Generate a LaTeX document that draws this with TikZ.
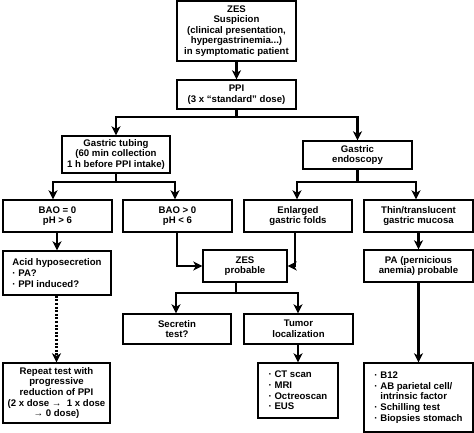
\documentclass[tikz,border=0pt]{standalone}
\usepackage{fontspec}
\setmainfont{Liberation Sans}
\usetikzlibrary{arrows.meta}
\begin{document}
\begin{tikzpicture}[x=1pt,y=-1pt,
  box/.style={draw, line width=1.4pt, inner sep=0pt, align=center,
    font=\bfseries\fontsize{9.6}{10.6}\selectfont},
  lbox/.style={box, align=left},
  conn/.style={line width=2.2pt},
  arr/.style={conn, -{Stealth[length=9pt,width=9pt,inset=2.5pt]}},
  darr/.style={arr, dash pattern=on 2pt off 1.6pt}
]
\useasboundingbox (0,0) rectangle (474,433);
\node[box, minimum width=119pt, minimum height=60pt] (zes) at (236.5,31)
  {ZES\\Suspicion\\(clinical presentation,\\hypergastrinemia...)\\in symptomatic patient};
\node[box, minimum width=119pt, minimum height=29pt] (ppi) at (236.5,94.5)
  {PPI\\(3 x “standard” dose)};
\node[box, minimum width=108pt, minimum height=37pt] (tubing) at (116,154.5)
  {Gastric tubing\\(60 min collection\\1 h before PPI intake)};
\node[box, minimum width=109pt, minimum height=28pt] (endo) at (357.5,155)
  {Gastric\\endoscopy};
\node[box, minimum width=109pt, minimum height=32pt] (bao0) at (57.5,216)
  {BAO = 0\\pH > 6};
\node[box, minimum width=109pt, minimum height=32pt] (baog) at (177.5,216)
  {BAO > 0\\pH < 6};
\node[box, minimum width=108pt, minimum height=32pt] (enl) at (298,216)
  {Enlarged\\gastric folds};
\node[box, minimum width=109pt, minimum height=32pt] (thin) at (418.5,216)
  {Thin/translucent\\gastric mucosa};
\node[lbox, minimum width=108pt, minimum height=44pt] (acid) at (57,273)
  {Acid hyposecretion\\· PA?\\· PPI induced?};
\node[box, minimum width=84pt, minimum height=32pt] (zesp) at (245,266)
  {ZES\\probable};
\node[box, minimum width=109pt, minimum height=32pt] (pa) at (418.5,266)
  {PA (pernicious\\anemia) probable};
\node[box, minimum width=108pt, minimum height=30pt] (secr) at (177,329)
  {Secretin\\test?};
\node[box, minimum width=109pt, minimum height=30pt] (tumor) at (298.5,329)
  {Tumor\\localization};
\node[lbox, minimum width=80pt, minimum height=55pt] (tlist) at (298,390.5)
  {· CT scan\\· MRI\\· Octreoscan\\· EUS};
\node[box, minimum width=107pt, minimum height=60pt] (rep) at (56.5,393)
  {Repeat test with\\progressive\\reduction of PPI\\(2 x dose → \ 1 x dose\\→ 0 dose)};
\node[lbox, minimum width=109pt, minimum height=69pt] (palist) at (418.5,397.5)
  {· B12\\· AB parietal cell/\\\phantom{· }intrinsic factor\\· Schilling test\\· Biopsies stomach};
% connectors
\draw[arr] (zes) -- (ppi);
\draw[conn] (ppi.south) -- ++(0,7) coordinate (j1);
\draw[arr] (j1) -| (tubing.north);
\draw[arr] (j1) -| (endo.north);
\draw[conn] (tubing.south) -- ++(0,8) coordinate (j2);
\draw[arr] (j2) -| ([xshift=-4.5pt]bao0.north);
\draw[arr] (j2) -| ([xshift=-2.5pt]baog.north);
\draw[conn] (endo.south) -- ++(0,12) coordinate (j3);
\draw[arr] (j3) -| ([xshift=-1pt]enl.north);
\draw[arr] (j3) -| ([xshift=-2.5pt]thin.north);
\draw[arr] (bao0.south -| acid.north) -- (acid.north);
\draw[arr] ([xshift=-0.5pt]baog.south) |- (zesp.west);
\draw[arr] ([xshift=-3pt]enl.south) |- (zesp.east);
\draw[arr] (thin.south -| pa.north) -- (pa.north);
\draw[conn] ([xshift=-9pt]zesp.south) -- ++(0,10) coordinate (j4);
\draw[arr] (j4) -| ([xshift=-1pt]secr.north);
\draw[arr] (j4) -| ([xshift=-0.5pt]tumor.north);
\draw[arr] (tumor.south -| tlist.north) -- (tlist.north);
\draw[darr] (acid.south -| rep.north) -- (rep.north);
\draw[arr] (pa.south -| palist.north) -- (palist.north);
\end{tikzpicture}
\end{document}
